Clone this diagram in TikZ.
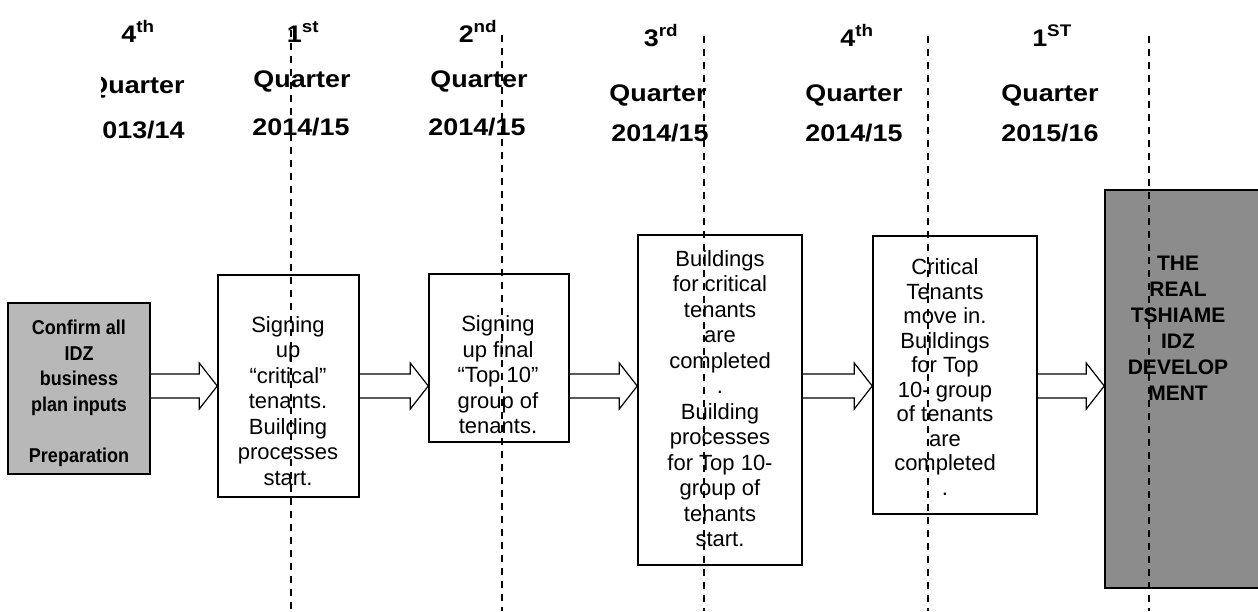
\documentclass[tikz,border=0pt]{standalone}
\usepackage{fontspec}
\setmainfont{Liberation Sans}
\newfontfamily\headfont[FakeStretch=1.12]{Liberation Sans}
\newfontfamily\prepfont[FakeStretch=0.9]{Liberation Sans}
\usetikzlibrary{calc}

\tikzset{
  box/.style={draw=black, line width=1.5pt, fill=white, inner sep=0pt},
  prepbox/.style={box, fill=black!28},
  realbox/.style={box, fill=black!45},
  body/.style={align=center, inner sep=0pt, font=\fontsize{22}{25.5}\selectfont},
  prep/.style={align=center, inner sep=0pt, font=\prepfont\bfseries\fontsize{20}{25.5}\selectfont},
  real/.style={align=center, inner sep=0pt, font=\bfseries\fontsize{21}{26}\selectfont},
  head/.style={anchor=base, inner sep=0pt, font=\headfont\bfseries\fontsize{24}{28}\selectfont},
  guide/.style={line width=1.5pt, dash pattern=on 7pt off 6pt},
  shaft/.style={line width=1.2pt, line join=miter},
}
% hollow block arrow between two boxes, on the common axis
\newcommand{\fatarrow}[2]{%
  \draw[shaft] ($(#1.east|-axis)+(0,-12)$) -- ($(#2.west|-axis)+(-18,-12)$)
    -- ($(#2.west|-axis)+(-18,-23)$) -- (#2.west|-axis)
    -- ($(#2.west|-axis)+(-18,23)$) -- ($(#2.west|-axis)+(-18,12)$)
    -- ($(#1.east|-axis)+(0,12)$);}

\begin{document}
\begin{tikzpicture}[x=1pt,y=-1pt]
\useasboundingbox (0,0) rectangle (1258,611);
\clip (0,0) rectangle (1258,611);
\coordinate (axis) at (0,386);

% boxes
\node[prepbox, minimum width=142pt, minimum height=171pt] (b0) at (79,388.5) {};
\node[box, minimum width=141pt, minimum height=222pt] (b1) at (288.5,386) {};
\node[box, minimum width=140pt, minimum height=168pt] (b2) at (499,358) {};
\node[box, minimum width=164pt, minimum height=330pt] (b3) at (720,400) {};
\node[box, minimum width=164pt, minimum height=278pt] (b4) at (955,375) {};
\node[realbox, minimum width=157pt, minimum height=398pt] (b5) at (1183.5,389) {};

% box texts
\node[prep] (t0) at (79,393.5) {Confirm all\\IDZ\\business\\plan inputs\\[25.5pt]Preparation};
\node[body] (t1) at (288,401) {Signing\\up\\“critical”\\tenants.\\Building\\processes\\start.};
\node[body] (t2) at (498,375) {Signing\\up final\\“Top 10”\\group of\\tenants.};
\node[body] (t3) at (720,398.5) {Buildings\\for critical\\tenants\\are\\completed\\.\\Building\\processes\\for Top 10-\\group of\\tenants\\start.};
\node[body, font=\fontsize{22}{24.5}\selectfont] (t4) at (945,377) {Critical\\Tenants\\move in.\\Buildings\\for Top\\10- group\\of tenants\\are\\completed\\.};
\node[real] (t5) at (1178,328) {THE\\REAL\\TSHIAME\\IDZ\\DEVELOP\\MENT};

% arrows
\fatarrow{b0}{b1}
\fatarrow{b1}{b2}
\fatarrow{b2}{b3}
\fatarrow{b3}{b4}
\fatarrow{b4}{b5}

% quarter headings
\begin{scope}
\clip (101,0) rectangle (300,611);
\node[head] (n1) at (138,42) {4\textsuperscript{th}};
\node[head] (q1) at (136,93) {Quarter};
\node[head] (y1) at (136,138) {2013/14};
\end{scope}
\node[head] (n2) at (303,42) {1\textsuperscript{st}};
\node[head] (q2) at (302,87) {Quarter};
\node[head] (y2) at (301,135) {2014/15};
\node[head] (n3) at (478,42) {2\textsuperscript{nd}};
\node[head] (q3) at (479,87) {Quarter};
\node[head] (y3) at (477,135) {2014/15};
\node[head] (n4) at (661,46) {3\textsuperscript{rd}};
\node[head] (q4) at (658,101) {Quarter};
\node[head] (y4) at (660,141) {2014/15};
\node[head] (n5) at (857,46) {4\textsuperscript{th}};
\node[head] (q5) at (854,101) {Quarter};
\node[head] (y5) at (854,141) {2014/15};
\node[head] (n6) at (1052,46) {1\textsuperscript{ST}};
\node[head] (q6) at (1050,101) {Quarter};
\node[head] (y6) at (1050,141) {2015/16};

% quarter boundaries
\draw[guide] (291,30) -- (291,611);
\draw[guide] (502,35) -- (502,611);
\draw[guide] (704,36) -- (704,611);
\draw[guide] (928,36) -- (928,611);
\draw[guide] (1149,36) -- (1149,611);
\end{tikzpicture}
\end{document}
